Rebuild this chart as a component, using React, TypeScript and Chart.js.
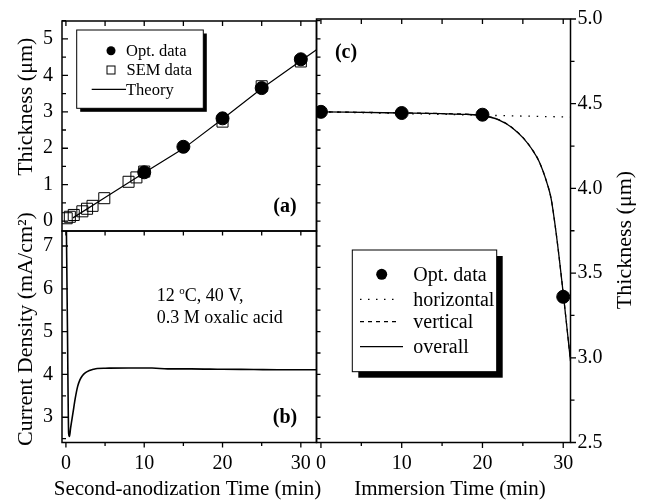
import React, { useEffect, useRef } from 'react';
import { Chart, registerables } from 'chart.js';

Chart.register(...registerables);

const FONT = "'Liberation Serif', 'Times New Roman', serif";

// ---------- Panel (a): thickness vs second-anodization time ----------
const A_OPT_TIME = [10, 15, 20, 25, 30];
const A_OPT_THICK = [1.34, 2.04, 2.82, 3.65, 4.44];
const A_SEM_TIME = [0.1, 0.5, 1.0, 2.1, 2.7, 3.4, 4.9, 8.0, 9.0, 10.0, 20.0, 25.0, 30.0];
const A_SEM_THICK = [0.08, 0.12, 0.17, 0.27, 0.34, 0.42, 0.63, 1.08, 1.2, 1.36, 2.73, 3.7, 4.38];
const A_THEORY_TIME = [0.9, 5, 10, 15, 20, 25, 30, 32];
const A_THEORY_THICK = [0.09, 0.65, 1.33, 1.99, 2.8, 3.64, 4.4, 4.7];
const A_Y_TICKS = [0, 1, 2, 3, 4, 5];

// ---------- Panel (b): current density ----------
const B_TIME = [0.05, 0.2, 0.35, 0.45, 0.6, 0.9, 1.2, 1.5, 1.8, 2.1, 2.5, 3.0, 3.5, 4.0, 5, 8, 11, 13, 16, 20, 24, 27, 32];
const B_CURRENT = [7.6, 5.0, 2.62, 2.55, 2.75, 3.1, 3.45, 3.72, 3.88, 3.97, 4.04, 4.09, 4.12, 4.14, 4.145, 4.15, 4.15, 4.13, 4.13, 4.12, 4.115, 4.11, 4.11];
const B_Y_TICKS = [3, 4, 5, 6, 7];
const B_X_TICKS = [0, 10, 20, 30];

// ---------- Panel (c): thickness vs immersion time ----------
const C_OPT_TIME = [0, 10, 20, 30];
const C_OPT_THICK = [4.452, 4.445, 4.435, 3.36];
const C_HORIZ_TIME = [0, 10, 20, 30.9];
const C_HORIZ_THICK = [4.452, 4.442, 4.432, 4.421];
const C_FIT_TIME = [0, 10, 15, 18, 20, 21, 22, 23, 24, 25, 26, 27, 28, 28.5, 29, 29.5, 30, 30.5, 30.9];
const C_VERTICAL_THICK = [4.452, 4.446, 4.442, 4.438, 4.431, 4.421, 4.406, 4.381, 4.346, 4.301, 4.241, 4.161, 4.031, 3.941, 3.781, 3.591, 3.381, 3.161, 2.981];
const C_OVERALL_THICK = [4.452, 4.445, 4.441, 4.437, 4.43, 4.42, 4.405, 4.38, 4.345, 4.3, 4.24, 4.16, 4.03, 3.94, 3.78, 3.59, 3.38, 3.16, 2.98];
const C_Y_TICKS = [2.5, 3.0, 3.5, 4.0, 4.5, 5.0];
const C_X_TICKS = [0, 10, 20, 30];

const pts = (xs: number[], ys: number[]) => xs.map((x, i) => ({ x, y: ys[i] }));
const steps = (a: number, b: number, s: number) => {
  const r: number[] = [];
  for (let v = a; v <= b + 1e-9; v += s) r.push(Math.round(v * 1000) / 1000);
  return r;
};

type TickSpec = { axis: string; side: 'top' | 'bottom' | 'left' | 'right'; values: number[]; len: number; out: boolean };

const decorPlugin = {
  id: 'decor',
  afterDatasetsDraw(chart: any, _args: any, opts: any) {
    const { ctx, chartArea: ca } = chart;
    ctx.save();
    ctx.strokeStyle = '#000';
    ctx.fillStyle = '#000';
    // frame
    ctx.lineWidth = 1.5;
    ctx.setLineDash([]);
    ctx.strokeRect(ca.left, ca.top, ca.right - ca.left, ca.bottom - ca.top);
    // tick marks
    ctx.lineWidth = 1.3;
    for (const t of (opts.ticks || []) as TickSpec[]) {
      const scale = chart.scales[t.axis];
      ctx.beginPath();
      for (const v of t.values) {
        const p = scale.getPixelForValue(v);
        if (t.side === 'top' || t.side === 'bottom') {
          if (p < ca.left - 0.5 || p > ca.right + 0.5) continue;
          const y0 = t.side === 'top' ? ca.top : ca.bottom;
          const dir = (t.side === 'top' ? 1 : -1) * (t.out ? -1 : 1);
          ctx.moveTo(p, y0);
          ctx.lineTo(p, y0 + dir * t.len);
        } else {
          if (p < ca.top - 0.5 || p > ca.bottom + 0.5) continue;
          const x0 = t.side === 'left' ? ca.left : ca.right;
          const dir = (t.side === 'left' ? 1 : -1) * (t.out ? -1 : 1);
          ctx.moveTo(x0, p);
          ctx.lineTo(x0 + dir * t.len, p);
        }
      }
      ctx.stroke();
    }
    // legend
    const lg = opts.legend;
    if (lg) {
      ctx.fillStyle = '#000';
      ctx.fillRect(lg.x + lg.shadow, lg.y + lg.shadow, lg.w, lg.h);
      ctx.fillStyle = '#fff';
      ctx.fillRect(lg.x, lg.y, lg.w, lg.h);
      ctx.lineWidth = 1;
      ctx.strokeStyle = '#000';
      ctx.strokeRect(lg.x, lg.y, lg.w, lg.h);
      for (const it of lg.items) {
        ctx.fillStyle = '#000';
        ctx.strokeStyle = '#000';
        if (it.kind === 'circle') {
          ctx.beginPath();
          ctx.arc(it.mx, it.my, it.size, 0, Math.PI * 2);
          ctx.fill();
        } else if (it.kind === 'square') {
          ctx.lineWidth = 1;
          ctx.setLineDash([]);
          ctx.strokeRect(it.mx - it.size, it.my - it.size, it.size * 2, it.size * 2);
        } else {
          ctx.lineWidth = 1.2;
          ctx.setLineDash(it.dash || []);
          ctx.beginPath();
          ctx.moveTo(it.x1, it.my);
          ctx.lineTo(it.x2, it.my);
          ctx.stroke();
          ctx.setLineDash([]);
        }
        ctx.font = lg.font;
        ctx.textAlign = 'left';
        ctx.textBaseline = 'middle';
        ctx.fillText(it.text, it.tx, it.my + 1);
      }
    }
    // free texts
    for (const t of opts.texts || []) {
      ctx.save();
      ctx.translate(t.x, t.y);
      if (t.rotate) ctx.rotate(t.rotate);
      ctx.fillStyle = '#000';
      ctx.textBaseline = t.baseline || 'alphabetic';
      const runs = t.runs || [{ text: t.text, font: t.font }];
      ctx.font = runs[0].font;
      let total = 0;
      for (const r of runs) { ctx.font = r.font; total += ctx.measureText(r.text).width; }
      let x = t.align === 'center' ? -total / 2 : 0;
      ctx.textAlign = 'left';
      for (const r of runs) {
        ctx.font = r.font;
        ctx.fillText(r.text, x, r.dy || 0);
        x += ctx.measureText(r.text).width;
      }
      ctx.restore();
    }
    ctx.restore();
  },
};

const TICK_FONT = { family: FONT, size: 20 };
const TITLE_Y = `22px ${FONT}`;
const TITLE_X = `21px ${FONT}`;

function yAxis(min: number, max: number, ticks: number[], width: number, position: string, fmt?: (v: number) => string, pad = 9) {
  return {
    type: 'linear',
    position,
    min,
    max,
    grid: { display: false, drawTicks: false },
    border: { display: false },
    ticks: { font: TICK_FONT, color: '#000', padding: pad, callback: fmt ? (v: any) => fmt(Number(v)) : (v: any) => String(v) },
    afterBuildTicks: (s: any) => { s.ticks = ticks.map((v) => ({ value: v })); },
    afterFit: (s: any) => { s.width = width; },
  };
}

function xAxis(min: number, max: number, ticks: number[], height: number) {
  return {
    type: 'linear',
    position: 'bottom',
    min,
    max,
    grid: { display: false, drawTicks: false },
    border: { display: false },
    ticks: { font: TICK_FONT, color: '#000', padding: 9, maxRotation: 0, autoSkip: false, callback: (v: any) => String(v) },
    afterBuildTicks: (s: any) => { s.ticks = ticks.map((v) => ({ value: v })); },
    afterFit: (s: any) => { s.height = height; },
  };
}

const BASE = {
  responsive: false,
  animation: false,
  devicePixelRatio: 1,
  events: [],
  plugins: { legend: { display: false }, tooltip: { enabled: false } },
};

function cfgA(): any {
  return {
    type: 'scatter',
    data: {
      datasets: [
        { label: 'Opt. data', data: pts(A_OPT_TIME, A_OPT_THICK), pointStyle: 'circle', pointRadius: 6.5, pointBackgroundColor: '#000', pointBorderColor: '#000', showLine: false },
        { label: 'SEM data', data: pts(A_SEM_TIME, A_SEM_THICK), pointStyle: 'rect', pointRadius: 7.8, pointBackgroundColor: 'rgba(0,0,0,0)', pointBorderColor: '#000', pointBorderWidth: 1, showLine: false },
        { label: 'Theory', data: pts(A_THEORY_TIME, A_THEORY_THICK), pointRadius: 0, showLine: true, borderColor: '#000', borderWidth: 1.2, tension: 0 },
      ],
    },
    options: {
      ...BASE,
      layout: { padding: { left: 10, top: 18.5, right: 648 - 316.5, bottom: 502 - 231 } },
      scales: {
        x: { type: 'linear', min: -0.5, max: 32, display: false },
        y: yAxis(-0.27, 5.49, A_Y_TICKS, 52, 'left'),
      },
      plugins: {
        ...BASE.plugins,
        decor: {
          ticks: [
            { axis: 'y', side: 'left', values: steps(0, 5, 1), len: 6, out: false },
            { axis: 'y', side: 'left', values: steps(0.5, 5.5, 1), len: 4, out: false },
            { axis: 'y', side: 'right', values: steps(0, 5.5, 0.5), len: 4, out: true },
            { axis: 'x', side: 'top', values: steps(0, 30, 5), len: 5, out: false },
            { axis: 'x', side: 'bottom', values: steps(0, 30, 5), len: 4.5, out: true },
          ],
          legend: {
            x: 76.7, y: 30, w: 126.6, h: 78.3, shadow: 3.5, font: `16.5px ${FONT}`,
            items: [
              { kind: 'circle', mx: 111, my: 50.7, size: 4.5, text: 'Opt. data', tx: 126 },
              { kind: 'square', mx: 111, my: 70, size: 4, text: 'SEM data', tx: 126.5 },
              { kind: 'line', x1: 91.7, x2: 126, my: 89.3, text: 'Theory', tx: 126 },
            ],
          },
          texts: [
            { text: '(a)', x: 285, y: 207, font: `bold 20px ${FONT}`, align: 'center', baseline: 'middle' },
            { text: 'Thickness (μm)', x: 26, y: 106.7, font: TITLE_Y, align: 'center', baseline: 'middle', rotate: -Math.PI / 2 },
          ],
        },
      },
    },
    plugins: [decorPlugin],
  };
}

function cfgB(): any {
  const H = 40;
  return {
    type: 'scatter',
    data: {
      datasets: [
        { label: 'Current density', data: pts(B_TIME, B_CURRENT), pointRadius: 0, showLine: true, borderColor: '#000', borderWidth: 1.6, cubicInterpolationMode: 'monotone' },
      ],
    },
    options: {
      ...BASE,
      layout: { padding: { left: 10, top: 231, right: 648 - 316.5, bottom: 502 - 442.5 - H } },
      scales: {
        x: xAxis(-0.5, 32, B_X_TICKS, H),
        y: yAxis(2.41, 7.35, B_Y_TICKS, 52, 'left'),
      },
      plugins: {
        ...BASE.plugins,
        decor: {
          ticks: [
            { axis: 'y', side: 'left', values: steps(3, 7, 1), len: 6, out: false },
            { axis: 'y', side: 'left', values: steps(2.5, 7.5, 1), len: 4, out: false },
            { axis: 'y', side: 'right', values: steps(2.5, 7.5, 0.5), len: 4, out: true },
            { axis: 'x', side: 'bottom', values: steps(0, 30, 10), len: 5, out: true },
            { axis: 'x', side: 'bottom', values: steps(5, 25, 10), len: 3.5, out: true },
          ],
          texts: [
            { text: '(b)', x: 285, y: 418, font: `bold 20px ${FONT}`, align: 'center', baseline: 'middle' },
            {
              x: 156.7, y: 301, align: 'left',
              runs: [
                { text: '12 ', font: `18px ${FONT}` },
                { text: 'o', font: `11px ${FONT}`, dy: -7 },
                { text: 'C, 40 V,', font: `18px ${FONT}` },
              ],
            },
            { text: '0.3 M oxalic acid', x: 156.7, y: 322.7, font: `18px ${FONT}`, align: 'left' },
            { text: 'Current Density (mA/cm²)', x: 26, y: 329, font: TITLE_Y, align: 'center', baseline: 'middle', rotate: -Math.PI / 2 },
            { text: 'Second-anodization Time (min)', x: 187.5, y: 489, font: TITLE_X, align: 'center', baseline: 'middle' },
          ],
        },
      },
    },
    plugins: [decorPlugin],
  };
}

function cfgC(): any {
  const H = 40;
  const W = 40;
  return {
    type: 'scatter',
    data: {
      datasets: [
        { label: 'Opt. data', data: pts(C_OPT_TIME, C_OPT_THICK), pointStyle: 'circle', pointRadius: 6.5, pointBackgroundColor: '#000', pointBorderColor: '#000', showLine: false },
        { label: 'overall', data: pts(C_FIT_TIME, C_OVERALL_THICK), pointRadius: 0, showLine: true, borderColor: '#000', borderWidth: 1.3, cubicInterpolationMode: 'monotone' },
        { label: 'vertical', data: pts(C_FIT_TIME, C_VERTICAL_THICK), pointRadius: 0, showLine: true, borderColor: '#000', borderWidth: 1.2, borderDash: [4, 4], cubicInterpolationMode: 'monotone' },
        { label: 'horizontal', data: pts(C_HORIZ_TIME, C_HORIZ_THICK), pointRadius: 0, showLine: true, borderColor: '#000', borderWidth: 1.3, borderDash: [1.5, 6.8] },
      ],
    },
    options: {
      ...BASE,
      layout: { padding: { left: 316.5, top: 18.5, right: 648 - 570.5 - W, bottom: 502 - 442.5 - H } },
      scales: {
        x: xAxis(-0.55, 30.9, C_X_TICKS, H),
        y: yAxis(2.5, 5.0, C_Y_TICKS, W, 'right', (v) => v.toFixed(1), 7),
      },
      plugins: {
        ...BASE.plugins,
        decor: {
          ticks: [
            { axis: 'y', side: 'right', values: steps(2.5, 5, 0.5), len: 5.5, out: true },
            { axis: 'y', side: 'right', values: steps(2.75, 4.75, 0.5), len: 4, out: true },
            { axis: 'x', side: 'top', values: steps(0, 30, 5), len: 5, out: false },
            { axis: 'x', side: 'bottom', values: steps(0, 30, 10), len: 5.5, out: true },
            { axis: 'x', side: 'bottom', values: steps(5, 25, 10), len: 3.5, out: true },
          ],
          legend: {
            x: 352.3, y: 250, w: 144.4, h: 121.7, shadow: 6, font: `20px ${FONT}`,
            items: [
              { kind: 'circle', mx: 381.7, my: 274.3, size: 5.5, text: 'Opt. data', tx: 413.3 },
              { kind: 'line', dash: [1.5, 6.5], x1: 360, x2: 400, my: 299.3, text: 'horizontal', tx: 413.3 },
              { kind: 'line', dash: [4, 4], x1: 360, x2: 400, my: 321.7, text: 'vertical', tx: 413.3 },
              { kind: 'line', x1: 360, x2: 403, my: 346.7, text: 'overall', tx: 413.3 },
            ],
          },
          texts: [
            { text: '(c)', x: 346, y: 53, font: `bold 20px ${FONT}`, align: 'center', baseline: 'middle' },
            { text: 'Thickness (μm)', x: 625.5, y: 240, font: TITLE_Y, align: 'center', baseline: 'middle', rotate: -Math.PI / 2 },
            { text: 'Immersion Time (min)', x: 450, y: 489, font: TITLE_X, align: 'center', baseline: 'middle' },
          ],
        },
      },
    },
    plugins: [decorPlugin],
  };
}

export default function App() {
  const refA = useRef<HTMLCanvasElement>(null);
  const refB = useRef<HTMLCanvasElement>(null);
  const refC = useRef<HTMLCanvasElement>(null);

  useEffect(() => {
    Chart.defaults.font.family = FONT;
    Chart.defaults.color = '#000';
    const charts = [
      new Chart(refA.current as HTMLCanvasElement, cfgA()),
      new Chart(refB.current as HTMLCanvasElement, cfgB()),
      new Chart(refC.current as HTMLCanvasElement, cfgC()),
    ];
    return () => charts.forEach((c) => c.destroy());
  }, []);

  const cs: React.CSSProperties = { position: 'absolute', left: 0, top: 0, width: 648, height: 502 };
  return (
    <div style={{ position: 'absolute', left: 0, top: 0, width: 648, height: 502, background: '#fff', overflow: 'hidden' }}>
      <canvas ref={refA} width={648} height={502} style={cs} />
      <canvas ref={refB} width={648} height={502} style={cs} />
      <canvas ref={refC} width={648} height={502} style={cs} />
    </div>
  );
}
